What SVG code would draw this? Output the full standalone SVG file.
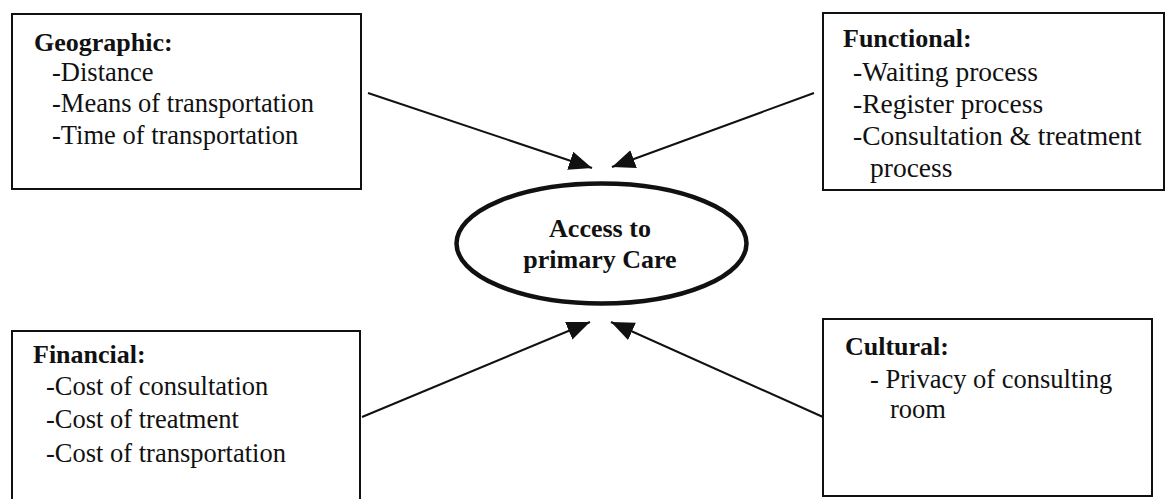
<svg xmlns="http://www.w3.org/2000/svg" width="1166" height="499" viewBox="0 0 1166 499">
<style>
  .box { fill: #ffffff; stroke: #111; stroke-width: 2; }
  .hd { font-family: "Liberation Serif", "Times New Roman", serif; font-weight: bold; font-size: 26px; fill: #111; }
  .it { font-family: "Liberation Serif", "Times New Roman", serif; font-size: 26.5px; fill: #111; }
  .itf { font-family: "Liberation Serif", "Times New Roman", serif; font-size: 27.5px; fill: #111; }
  .ell { fill: none; stroke: #111; stroke-width: 4.5; }
  .conn { stroke: #111; stroke-width: 2; fill: none; marker-end: url(#ah); }
</style>
<defs>
  <marker id="ah" markerUnits="userSpaceOnUse" markerWidth="26" markerHeight="20" refX="23" refY="9.5" orient="auto">
    <path d="M0,0 L23,9.5 L0,19 z" fill="#111"/>
  </marker>
</defs>
<rect width="1166" height="499" fill="#ffffff"/>

<g id="geographic">
  <rect class="box" x="12" y="14" width="349" height="175"/>
  <text class="hd" x="34" y="51">Geographic:</text>
  <text class="it" x="52" y="81">-Distance</text>
  <text class="it" x="52" y="112">-Means of transportation</text>
  <text class="it" x="52" y="144">-Time of transportation</text>
</g>

<g id="functional">
  <rect class="box" x="823" y="13" width="341" height="177"/>
  <text class="hd" x="843" y="47">Functional:</text>
  <text class="itf" x="853" y="81">-Waiting process</text>
  <text class="itf" x="853" y="113">-Register process</text>
  <text class="itf" x="853" y="145">-Consultation &amp; treatment</text>
  <text class="itf" x="870" y="177">process</text>
</g>

<g id="financial">
  <rect class="box" x="12" y="331" width="348" height="180"/>
  <text class="hd" x="33" y="363">Financial:</text>
  <text class="it" x="46" y="395">-Cost of consultation</text>
  <text class="it" x="46" y="428">-Cost of treatment</text>
  <text class="it" x="46" y="462">-Cost of transportation</text>
</g>

<g id="cultural">
  <rect class="box" x="823" y="319" width="329" height="177"/>
  <text class="hd" x="845" y="355">Cultural:</text>
  <text class="it" x="870" y="388">- Privacy of consulting</text>
  <text class="it" x="890" y="418">room</text>
</g>

<g id="access">
  <ellipse class="ell" cx="601.5" cy="243.5" rx="145" ry="60"/>
  <text class="hd" x="600" y="237" text-anchor="middle">Access to</text>
  <text class="hd" x="600" y="268" text-anchor="middle">primary Care</text>
</g>

<g id="connectors">
  <line class="conn" x1="368" y1="93" x2="592" y2="168"/>
  <line class="conn" x1="814" y1="93" x2="612" y2="167"/>
  <line class="conn" x1="362" y1="417" x2="590" y2="322"/>
  <line class="conn" x1="823" y1="417" x2="611" y2="322"/>
</g>
</svg>
